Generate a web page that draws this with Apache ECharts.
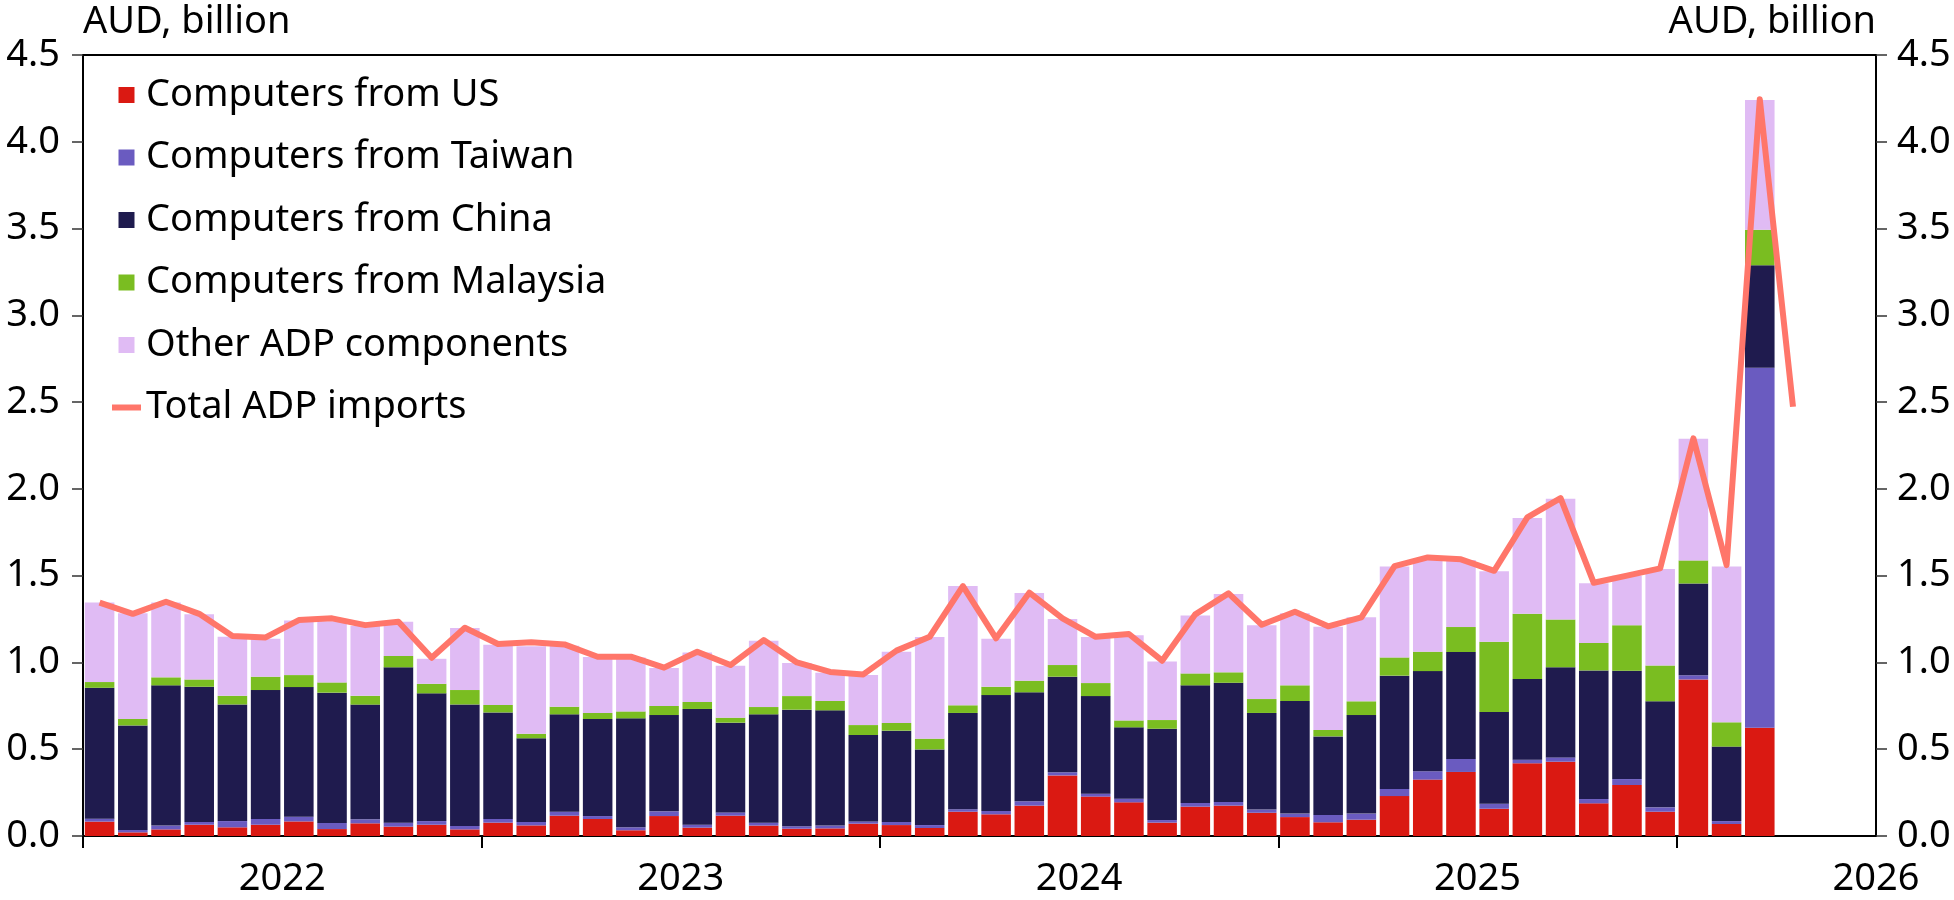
<!DOCTYPE html>
<html lang="en">
<head>
<meta charset="utf-8" />
<title>ADP imports</title>
<script src="https://cdn.jsdelivr.net/npm/echarts@6/dist/echarts.min.js"></script>
<style>
  html, body { margin: 0; padding: 0; background: #fff; }
  #chart { width: 1954px; height: 900px; }
</style>
</head>
<body>
<div id="chart"></div>
<script>
// months on the axis: Jan 2022 .. Jun 2026
const months = [];
for (let y = 2022; y <= 2026; y++) {
  for (let m = 1; m <= 12; m++) {
    if (months.length < 54) months.push(y + '-' + String(m).padStart(2, '0'));
  }
}
const yearLabels = ['2022', '2023', '2024', '2025', '2026'];
const yearTickPos = [0, 12, 24, 36, 48];
const yearLabelPos = [6, 18, 30, 42, 54];

// AUD billion
const usData = [0.083, 0.021, 0.038, 0.065, 0.050, 0.065, 0.084, 0.040, 0.073, 0.054,
  0.065, 0.038, 0.077, 0.061, 0.117, 0.098, 0.033, 0.115, 0.048, 0.117,
  0.060, 0.042, 0.044, 0.071, 0.063, 0.046, 0.140, 0.125, 0.175, 0.349,
  0.227, 0.194, 0.077, 0.169, 0.175, 0.134, 0.109, 0.079, 0.094, 0.230,
  0.325, 0.369, 0.157, 0.419, 0.428, 0.188, 0.294, 0.140, 0.902, 0.069,
  0.624];
const twData = [0.017, 0.014, 0.022, 0.016, 0.036, 0.033, 0.027, 0.035, 0.023, 0.023,
  0.021, 0.020, 0.021, 0.020, 0.023, 0.017, 0.017, 0.027, 0.017, 0.019,
  0.017, 0.014, 0.016, 0.013, 0.018, 0.017, 0.014, 0.019, 0.025, 0.018,
  0.017, 0.021, 0.015, 0.021, 0.021, 0.018, 0.020, 0.042, 0.035, 0.041,
  0.048, 0.075, 0.029, 0.021, 0.025, 0.025, 0.034, 0.025, 0.024, 0.017,
  2.074];
const cnData = [0.754, 0.602, 0.808, 0.779, 0.672, 0.743, 0.747, 0.751, 0.661, 0.895,
  0.736, 0.700, 0.614, 0.482, 0.561, 0.559, 0.628, 0.555, 0.667, 0.517,
  0.624, 0.672, 0.664, 0.498, 0.526, 0.436, 0.555, 0.668, 0.628, 0.551,
  0.562, 0.411, 0.526, 0.678, 0.687, 0.557, 0.649, 0.453, 0.568, 0.653,
  0.577, 0.616, 0.528, 0.464, 0.519, 0.741, 0.624, 0.611, 0.529, 0.429,
  0.591];
const myData = [0.033, 0.037, 0.046, 0.042, 0.050, 0.077, 0.069, 0.059, 0.051, 0.065,
  0.055, 0.083, 0.043, 0.026, 0.044, 0.035, 0.040, 0.052, 0.040, 0.029,
  0.042, 0.078, 0.054, 0.057, 0.044, 0.062, 0.044, 0.048, 0.067, 0.067,
  0.075, 0.040, 0.050, 0.069, 0.060, 0.080, 0.090, 0.037, 0.079, 0.105,
  0.112, 0.144, 0.405, 0.377, 0.276, 0.158, 0.262, 0.207, 0.133, 0.140,
  0.204];
const otherData = [0.459, 0.609, 0.432, 0.375, 0.340, 0.219, 0.315, 0.352, 0.404, 0.198,
  0.144, 0.357, 0.347, 0.505, 0.351, 0.322, 0.311, 0.219, 0.286, 0.299,
  0.382, 0.191, 0.163, 0.288, 0.411, 0.585, 0.687, 0.277, 0.505, 0.265,
  0.265, 0.490, 0.338, 0.334, 0.451, 0.425, 0.415, 0.595, 0.484, 0.524,
  0.539, 0.386, 0.406, 0.551, 0.695, 0.345, 0.286, 0.555, 0.701, 0.898,
  0.748];
const totalData = [1.345, 1.280, 1.350, 1.280, 1.152, 1.144, 1.244, 1.254, 1.215, 1.235,
  1.027, 1.200, 1.106, 1.116, 1.104, 1.033, 1.033, 0.970, 1.062, 0.985,
  1.129, 1.000, 0.945, 0.931, 1.068, 1.148, 1.440, 1.139, 1.402, 1.254,
  1.148, 1.164, 1.010, 1.277, 1.398, 1.217, 1.292, 1.208, 1.260, 1.555,
  1.605, 1.594, 1.528, 1.836, 1.947, 1.459, 1.500, 1.542, 2.291, 1.561,
  4.245, 2.473];

const FONT = 'Noto Sans';
const FS = 38;
const SQ = 'path://M0,0H16V16H0Z';
const DASH = 'path://M0,0H29V6H0Z';

const chart = echarts.init(document.getElementById('chart'));

function yAxis(pos, align, margin) {
  return {
    type: 'value',
    position: pos,
    min: 0,
    max: 4.5,
    interval: 0.5,
    name: 'AUD, billion',
    nameLocation: 'end',
    nameGap: 14,
    nameTextStyle: { align: align, fontSize: FS, fontFamily: FONT, color: '#000' },
    axisLine: { show: true, lineStyle: { color: '#000', width: 2 } },
    axisTick: { show: true, length: 11, lineStyle: { color: '#333', width: 1.5 } },
    axisLabel: {
      margin: margin, fontSize: FS, fontFamily: FONT, color: '#000',
      formatter: function (v) { return v.toFixed(1); }
    },
    splitLine: { show: false }
  };
}

function barSeries(name, data, color) {
  return {
    name: name,
    type: 'bar',
    stack: 'adp',
    data: data,
    barCategoryGap: '11%',
    itemStyle: { color: color },
    emphasis: { disabled: true }
  };
}

chart.setOption({
  animation: false,
  textStyle: { fontFamily: FONT },
  grid: {
    left: 83, right: 78, top: 55, bottom: 64,
    show: true, borderColor: '#000', borderWidth: 2,
    outerBoundsMode: 'none'
  },
  legend: {
    orient: 'vertical',
    left: 112,
    top: 76,
    padding: 0,
    itemWidth: 29,
    itemHeight: 16,
    itemGap: 24.5,
    textGap: 8,
    textStyle: { fontSize: FS, fontFamily: FONT, color: '#000', lineHeight: 38 },
    data: [
      { name: 'Computers from US', icon: SQ },
      { name: 'Computers from Taiwan', icon: SQ },
      { name: 'Computers from China', icon: SQ },
      { name: 'Computers from Malaysia', icon: SQ },
      { name: 'Other ADP components', icon: SQ },
      { name: 'Total ADP imports', icon: DASH }
    ]
  },
  xAxis: [
    {
      type: 'category',
      data: months,
      boundaryGap: true,
      axisLine: { show: true, lineStyle: { color: '#000', width: 2 } },
      axisTick: { show: false },
      axisLabel: { show: false }
    },
    {
      type: 'value',
      position: 'bottom',
      min: 0,
      max: 54,
      axisLine: { show: false },
      axisTick: { show: true, length: 12, customValues: yearTickPos, lineStyle: { color: '#000', width: 2 } },
      axisLabel: {
        customValues: yearLabelPos,
        margin: 24,
        fontSize: FS, fontFamily: FONT, color: '#000',
        formatter: function (v) { return yearLabels[yearLabelPos.indexOf(v)] || ''; }
      },
      splitLine: { show: false }
    }
  ],
  yAxis: [yAxis('left', 'left', 23), yAxis('right', 'right', 21)],
  series: [
    barSeries('Computers from US', usData, '#DA1912'),
    barSeries('Computers from Taiwan', twData, '#6A5BC0'),
    barSeries('Computers from China', cnData, '#1F1B4E'),
    barSeries('Computers from Malaysia', myData, '#7ABD21'),
    barSeries('Other ADP components', otherData, '#E0BBF4'),
    {
      name: 'Total ADP imports',
      type: 'line',
      data: totalData,
      symbol: 'none',
      lineStyle: { color: '#FF766A', width: 6, join: 'round' },
      itemStyle: { color: '#FF766A' },
      emphasis: { disabled: true },
      z: 5
    }
  ]
});
</script>
</body>
</html>
